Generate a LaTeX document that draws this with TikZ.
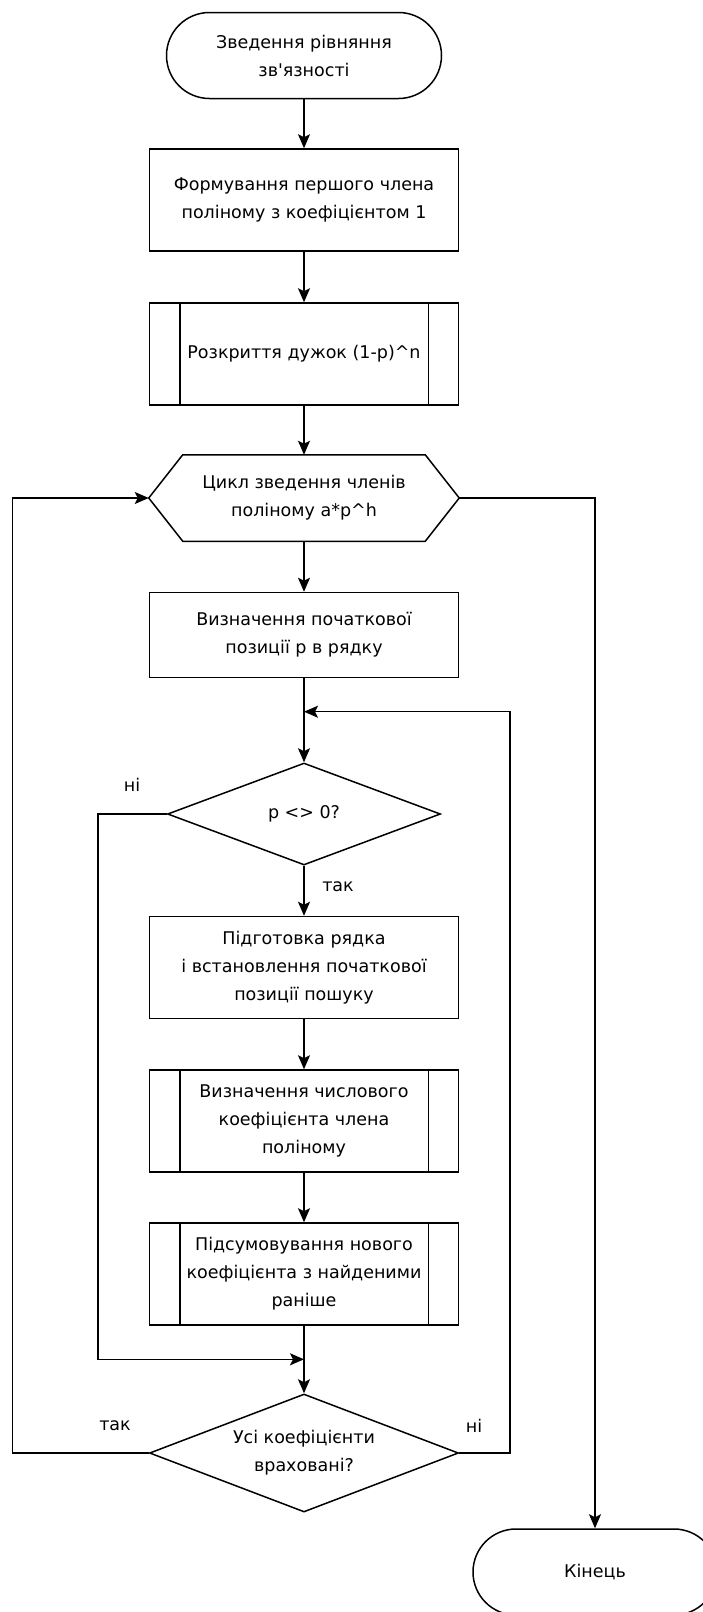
\documentclass[tikz,border=0pt]{standalone}
\usepackage{fontspec}
\newfontfamily\dv{DejaVu Sans}
\usetikzlibrary{arrows.meta,shapes.geometric,calc}
\tikzset{
  base/.style={draw=black, line width=1.5pt, align=center, inner sep=0pt, font=\dv\fontsize{17.5}{28}\selectfont},
  term/.style={base, rounded corners=43pt, minimum width=#1, minimum height=86pt},
  proc/.style={base, rectangle, minimum width=309pt, minimum height=#1},
  lbl/.style={font=\dv\fontsize{17.5}{28}\selectfont, inner sep=0pt},
  conn/.style={line width=1.5pt, -{Stealth[length=14pt, width=12pt, inset=3pt]}},
}
\newcommand{\subbars}[1]{%
  \draw[line width=1.5pt] ($(#1.north west)+(31pt,0)$) -- ($(#1.south west)+(31pt,0)$);
  \draw[line width=1.5pt] ($(#1.north east)+(-31pt,0)$) -- ($(#1.south east)+(-31pt,0)$);}
\begin{document}
\begin{tikzpicture}[x=1pt,y=-1pt]
\useasboundingbox (0,0) rectangle (703,1612);
\node[term=275pt] (start) at (304,55.5) {Зведення рівняння\\зв'язності};
\node[proc=102pt] (b1) at (304,200) {Формування першого члена\\поліному з коефіцієнтом 1};
\node[proc=102pt] (b2) at (304,354) {Розкриття дужок (1-p)\^{}n};
\subbars{b2}
\node[base, draw=none, minimum width=309pt, minimum height=85pt] (hex) at (304,498) {Цикл зведення членів\\поліному a*p\^{}h};
\draw[line width=1.5pt] (hex.west) -- ($(hex.north west)+(34pt,0)$) -- ($(hex.north east)+(-34pt,0)$) -- (hex.east) -- ($(hex.south east)+(-34pt,0)$) -- ($(hex.south west)+(34pt,0)$) -- cycle;
\node[proc=85pt] (b3) at (304,635) {Визначення початкової\\позиції p в рядку};
\coordinate (m1) at (304,711.7);
\node[base, diamond, aspect=2.68, minimum width=273pt, minimum height=102pt] (d1) at (304,814) {p <> 0?};
\node[proc=102pt] (b4) at (304,967.5) {Підготовка рядка\\і встановлення початкової\\позиції пошуку};
\node[proc=102pt] (b5) at (304,1121) {Визначення числового\\коефіцієнта члена\\поліному};
\subbars{b5}
\node[proc=102pt] (b6) at (304,1274) {Підсумовування нового\\коефіцієнта з найденими\\раніше};
\subbars{b6}
\coordinate (m2) at (304,1359.3);
\node[base, diamond, aspect=2.62, minimum width=309pt, minimum height=118pt] (d2) at (304,1453) {Усі коефіцієнти\\враховані?};
\node[term=244pt] (end) at (595,1572) {Кінець};

\draw[conn] (start) -- (b1);
\draw[conn] (b1) -- (b2);
\draw[conn] (b2) -- (hex);
\draw[conn] (hex) -- (b3);
\draw[conn] (b3) -- (d1);
\draw[conn] (d1) -- (b4);
\draw[conn] (b4) -- (b5);
\draw[conn] (b5) -- (b6);
\draw[conn] (b6) -- (d2);
\draw[conn] (d2.east) -- (510,1453) -- (510,711.7) -- (m1);
\draw[conn] (d1.west) -- (98,814) -- (98,1359.3) -- (m2);
\draw[conn] (d2.west) -- (12.6,1453) -- (12.6,498) -- (hex.west);
\draw[conn] (hex.east) -- (595,498) -- (end.north);

\node[lbl] (l1) at (338,887) {так};
\node[lbl] (l2) at (132,785) {ні};
\node[lbl] (l3) at (115,1426) {так};
\node[lbl] (l4) at (474,1426) {ні};
\end{tikzpicture}
\end{document}
